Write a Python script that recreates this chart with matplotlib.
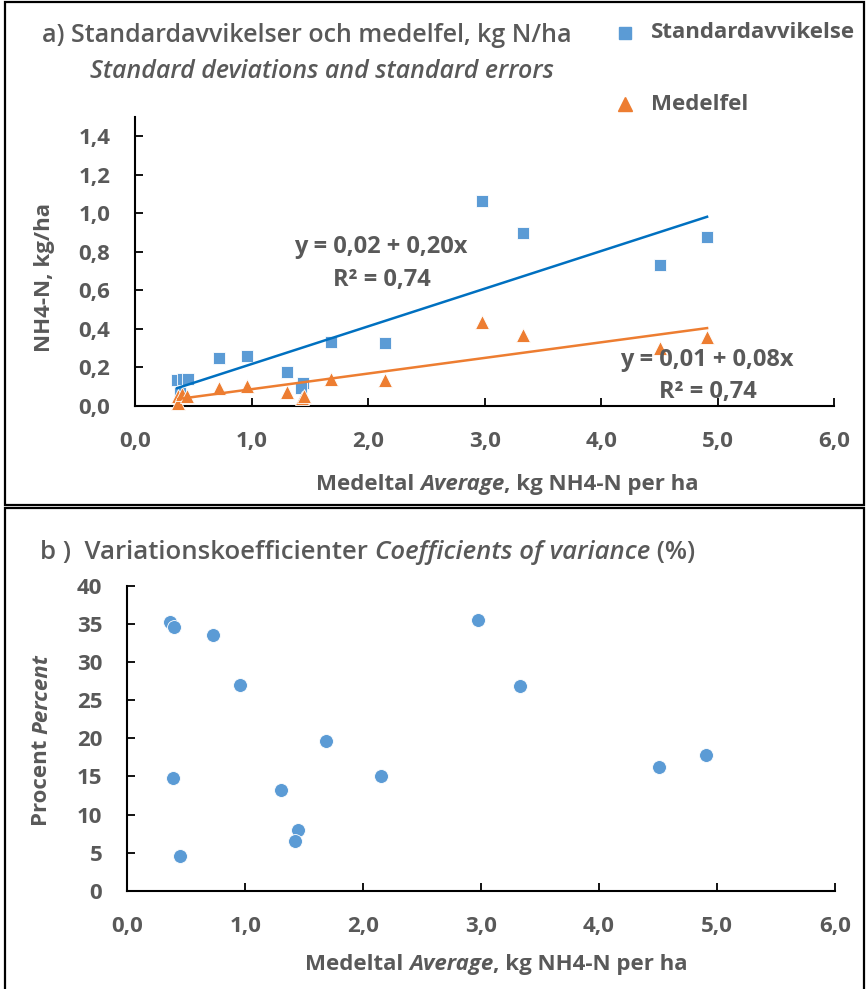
import numpy as np
import matplotlib
matplotlib.use("Agg")
import matplotlib.pyplot as plt
from matplotlib.lines import Line2D
from matplotlib.patches import Rectangle

plt.rcParams['font.family'] = ['Open Sans', 'DejaVu Sans']

# a) standardavvikelse (fyrkanter) och medelfel (trianglar) mot medeltal
medel_sd = [0.36, 0.41, 0.45, 0.38, 0.72, 0.96, 1.30, 1.44, 1.42, 1.68, 2.14, 2.975, 3.33, 4.51, 4.91]
sd = [0.135, 0.14, 0.14, 0.07, 0.247, 0.261, 0.175, 0.12, 0.095, 0.33, 0.328, 1.064, 0.90, 0.732, 0.875]
medel_se = [0.37, 0.37, 0.40, 0.44, 0.72, 0.96, 1.30, 1.43, 1.45, 1.68, 2.14, 2.975, 3.33, 4.51, 4.91]
se = [0.052, 0.017, 0.06, 0.05, 0.095, 0.105, 0.075, 0.042, 0.052, 0.138, 0.135, 0.434, 0.368, 0.30, 0.36]

# b) variationskoefficienter
medel_cv = [0.362, 0.399, 0.730, 0.959, 2.975, 3.334, 1.685, 0.388, 2.149, 1.301, 1.451, 1.425, 0.447, 4.509, 4.907]
cv = [35.3, 34.6, 33.5, 27.0, 35.5, 26.8, 19.6, 14.8, 15.1, 13.2, 8.0, 6.5, 4.6, 16.2, 17.8]

xticks = [0, 1, 2, 3, 4, 5, 6]
yticks_a = [0, 0.2, 0.4, 0.6, 0.8, 1.0, 1.2, 1.4]
yticks_b = [0, 5, 10, 15, 20, 25, 30, 35, 40]

BLUE = "#5B9BD5"
ORANGE = "#ED7D31"
LINEBLUE = "#0070C0"
GREY = "#595959"

FS = 16        # tick labels, axis labels
FS_EQ = 17     # trendline equations
FS_LEG = 16
FS_TITLE = 18

W, H = 866, 989


def fx(px):
    return px / W


def fy(py):
    return 1 - py / H


def komma(v, dec):
    return f"{v:.{dec}f}".replace(".", ",")


def style_axes(ax, yticks, ydec, ymax):
    ax.set_xlim(0, 6)
    ax.set_ylim(0, ymax)
    ax.set_xticks(xticks)
    ax.set_xticklabels([komma(v, 1) for v in xticks])
    ax.set_yticks(yticks)
    ax.set_yticklabels([komma(v, ydec) for v in yticks])
    for s in ["top", "right"]:
        ax.spines[s].set_visible(False)
    for s in ["left", "bottom"]:
        ax.spines[s].set_linewidth(1.5)
        ax.spines[s].set_color("black")
    ax.tick_params(direction="in", length=6, width=1.3, colors="black",
                   labelcolor=GREY, labelsize=FS, pad=18)
    for lab in ax.get_xticklabels() + ax.get_yticklabels():
        lab.set_fontweight("bold")


fig = plt.figure(figsize=(W / 100, H / 100), dpi=100)

ax1 = fig.add_axes([fx(135.3), fy(406), fx(834) - fx(135.3), fy(117) - fy(406)])
ax2 = fig.add_axes([fx(127.3), fy(890.8), fx(834.8) - fx(127.3), fy(585.7) - fy(890.8)])

# --- a) ---
ax1.plot(medel_sd, sd, "s", color=BLUE, markersize=9, markeredgecolor="white",
         markeredgewidth=0.6, clip_on=False, zorder=3)
ax1.plot(medel_se, se, "^", color=ORANGE, markersize=10, markeredgecolor="white",
         markeredgewidth=0.6, clip_on=False, zorder=3)

for xs, ys, col in [(medel_sd, sd, LINEBLUE), (medel_se, se, ORANGE)]:
    k, m = np.polyfit(xs, ys, 1)
    xl = np.array([min(xs), max(xs)])
    ax1.plot(xl, m + k * xl, color=col, linewidth=1.8, zorder=4)

style_axes(ax1, yticks_a, 1, 1.5)

for txt, px, py in [("y = 0,02 + 0,20x", 381, 247), ("R² = 0,74", 382, 280),
                    ("y = 0,01 + 0,08x", 707, 360), ("R² = 0,74", 708, 392)]:
    fig.text(fx(px), fy(py), txt, fontsize=FS_EQ, fontweight="bold", color=GREY,
             ha="center", va="center")

fig.text(fx(307), fy(36), "a) Standardavvikelser och medelfel, kg N/ha",
         fontsize=FS_TITLE, fontweight="semibold", color=GREY, ha="center", va="center")
fig.text(fx(322), fy(72), "Standard deviations and standard errors",
         fontsize=FS_TITLE, fontweight="semibold", style="italic", color=GREY,
         ha="center", va="center")

# legend
fig.add_artist(Line2D([fx(625)], [fy(33)], marker="s", color=BLUE, markersize=9,
                      linestyle="none", transform=fig.transFigure))
fig.add_artist(Line2D([fx(625)], [fy(104)], marker="^", color=ORANGE, markersize=10,
                      linestyle="none", transform=fig.transFigure))
fig.text(fx(651), fy(33), "Standardavvikelse", fontsize=FS_LEG, fontweight="bold",
         color=GREY, ha="left", va="center")
fig.text(fx(651), fy(104), "Medelfel", fontsize=FS_LEG, fontweight="bold",
         color=GREY, ha="left", va="center")

fig.text(fx(45), fy(277), "NH4-N, kg/ha", fontsize=FS, fontweight="bold", color=GREY,
         rotation=90, ha="center", va="center")

# --- b) ---
ax2.plot(medel_cv, cv, "o", color=BLUE, markersize=10, markeredgecolor="white",
         markeredgewidth=0.6, clip_on=False, zorder=3)
style_axes(ax2, yticks_b, 0, 40)

# x-etiketter med kursiv del
for px, py in [(316, 495), (305, 975)]:
    t1 = fig.text(fx(px), fy(py), "Medeltal ", fontsize=FS, fontweight="bold",
                  color=GREY, ha="left", va="bottom")
    t2 = ax1.annotate("Average", xy=(1, 0), xycoords=t1, fontsize=FS, fontweight="bold",
                      style="italic", color=GREY, ha="left", va="bottom", annotation_clip=False)
    ax1.annotate(", kg NH4-N per ha", xy=(1, 0), xycoords=t2, fontsize=FS, fontweight="bold",
                 color=GREY, ha="left", va="bottom", annotation_clip=False)

t1 = fig.text(fx(40), fy(565), "b )  Variationskoefficienter ", fontsize=18.5,
              fontweight="semibold", color=GREY, ha="left", va="bottom")
t2 = ax2.annotate("Coefficients of variance", xy=(1, 0), xycoords=t1, fontsize=18.5,
                  fontweight="semibold", style="italic", color=GREY, ha="left", va="bottom",
                  annotation_clip=False)
ax2.annotate(" (%)", xy=(1, 0), xycoords=t2, fontsize=18.5, fontweight="semibold",
             color=GREY, ha="left", va="bottom", annotation_clip=False)

t1 = fig.text(fx(31), fy(826), "Procent ", fontsize=FS, fontweight="bold", color=GREY,
              rotation=90, ha="left", va="bottom")
ax2.annotate("Percent", xy=(0, 1), xycoords=t1, fontsize=FS, fontweight="bold",
             style="italic", color=GREY, rotation=90, ha="left", va="bottom",
             annotation_clip=False)

# ramar
fig.add_artist(Rectangle((fx(5), fy(505)), fx(864) - fx(5), fy(2) - fy(505),
                         transform=fig.transFigure, fill=False, lw=1.6, edgecolor="black"))
fig.add_artist(Rectangle((fx(5), fy(1000)), fx(864) - fx(5), fy(508) - fy(1000),
                         transform=fig.transFigure, fill=False, lw=1.6, edgecolor="black"))

fig.savefig("out.png", dpi=100)
